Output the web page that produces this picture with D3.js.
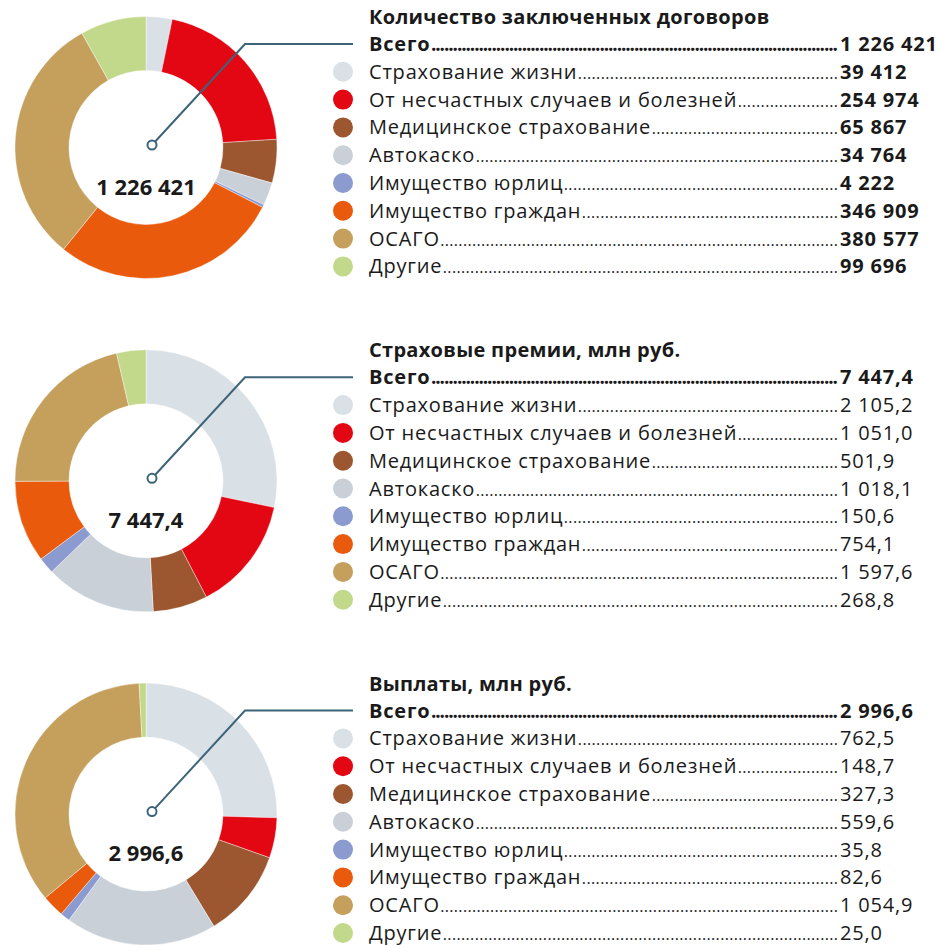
<!DOCTYPE html>
<html>
<head>
<meta charset="utf-8">
<script src="https://cdn.jsdelivr.net/npm/d3@7"></script>
<style>
  body { margin: 0; background: #fff; }
  svg text { font-family: "Open Sans", "Noto Sans", sans-serif; fill: #1a1a1a; }
</style>
</head>
<body>
<div id="chart"></div>
<script>
const categories = [
    "Страхование жизни",
    "От несчастных случаев и болезней",
    "Медицинское страхование",
    "Автокаско",
    "Имущество юрлиц",
    "Имущество граждан",
    "ОСАГО",
    "Другие"
];
const colors = ["#d9e0e6", "#e30613", "#9c5730", "#c9d0d8", "#8b9bd0", "#e95a0c", "#c4a05c", "#c2d88a"];

const titles = [
    "Количество заключенных договоров",
    "Страховые премии, млн руб.",
    "Выплаты, млн руб."
];
const totals = [1226421, 7447.4, 2996.6];

const contracts = [39412, 254974, 65867, 34764, 4222, 346909, 380577, 99696];
const premiums = [2105.2, 1051.0, 501.9, 1018.1, 150.6, 754.1, 1597.6, 268.8];
const payouts = [762.5, 148.7, 327.3, 559.6, 35.8, 82.6, 1054.9, 25.0];

const seriesList = [contracts, premiums, payouts];
const decimals = [0, 1, 1];
const boldValues = [true, false, false];

const width = 945, height = 945;
const ru = d3.formatLocale({ decimal: ",", thousands: "\u00a0", grouping: [3], currency: ["", ""] });
const fmt = (v, dec) => dec === 0 ? ru.format(",d")(v) : ru.format(",." + dec + "f")(v);

const svg = d3.select("#chart")
    .append("svg")
    .attr("width", width)
    .attr("height", height);

const blockStep = 333.3;
const outerR = 131, innerR = 77;
const lineColor = "#3d6478";
const labelX = 369, valueX = 840;
const fontSize = 20;
const spacing = "0.8px";
const rowStep = 27.8;

const pie = d3.pie().sort(null).value(d => d);
const arc = d3.arc().innerRadius(innerR).outerRadius(outerR);

seriesList.forEach((series, bi) => {
    const top = bi * blockStep;
    const cx = 146, cy = top + 147.5;
    const g = svg.append("g");

    // donut
    g.append("g")
        .attr("transform", `translate(${cx},${cy})`)
        .selectAll("path")
        .data(pie(series))
        .join("path")
        .attr("d", arc)
        .attr("fill", (d, i) => colors[i])
        .attr("stroke", "#fff")
        .attr("stroke-width", 0.4);

    // total in the middle
    g.append("text")
        .attr("x", cx)
        .attr("y", cy + 47)
        .attr("text-anchor", "middle")
        .style("font-size", "22px")
        .style("font-weight", "bold")
        .text(fmt(totals[bi], decimals[bi]));

    // leader line from centre to "Всего" row
    const rowY0 = top + 44;
    g.append("polyline")
        .attr("points", `${cx + 6},${cy - 2.5} 245,${rowY0} 353,${rowY0}`)
        .attr("fill", "none")
        .attr("stroke", lineColor)
        .attr("stroke-width", 2);
    g.append("circle")
        .attr("cx", cx + 6)
        .attr("cy", cy - 2.5)
        .attr("r", 4.5)
        .attr("fill", "#fff")
        .attr("stroke", lineColor)
        .attr("stroke-width", 2);

    // title
    g.append("text")
        .attr("x", labelX)
        .attr("y", top + 24)
        .style("font-size", fontSize + "px")
        .style("font-weight", "bold")
        .style("letter-spacing", "0.3px")
        .text(titles[bi]);

    const rows = [{ label: "Всего", value: totals[bi], bold: true, valueBold: true, color: null }]
        .concat(categories.map((c, i) => ({
            label: c, value: series[i], bold: false, valueBold: boldValues[bi], color: colors[i]
        })));

    rows.forEach((r, ri) => {
        const yc = rowY0 + ri * rowStep;
        const base = yc + 7;
        if (r.color) {
            g.append("circle")
                .attr("cx", 343)
                .attr("cy", yc)
                .attr("r", 10)
                .attr("fill", r.color);
        }
        const lbl = g.append("text")
            .attr("x", labelX)
            .attr("y", base)
            .style("font-size", fontSize + "px")
            .style("letter-spacing", spacing)
            .style("font-weight", r.bold ? "bold" : "normal")
            .text(r.label);
        const endX = labelX + lbl.node().getComputedTextLength() + 0.5;
        const span = valueX - 2 - endX;
        const n = Math.max(1, Math.floor(span / (r.bold ? 4.3 : 4.5)));
        g.append("text")
            .attr("x", endX)
            .attr("y", base)
            .style("font-size", (r.bold ? 19 : 16) + "px")
            .style("font-weight", r.bold ? "bold" : "normal")
            .attr("textLength", span)
            .attr("lengthAdjust", "spacing")
            .text(".".repeat(n));
        g.append("text")
            .attr("x", valueX)
            .attr("y", base)
            .style("font-size", fontSize + "px")
            .style("letter-spacing", spacing)
            .style("font-weight", r.valueBold ? "bold" : "normal")
            .text(fmt(r.value, decimals[bi]));
    });
});
</script>
</body>
</html>
